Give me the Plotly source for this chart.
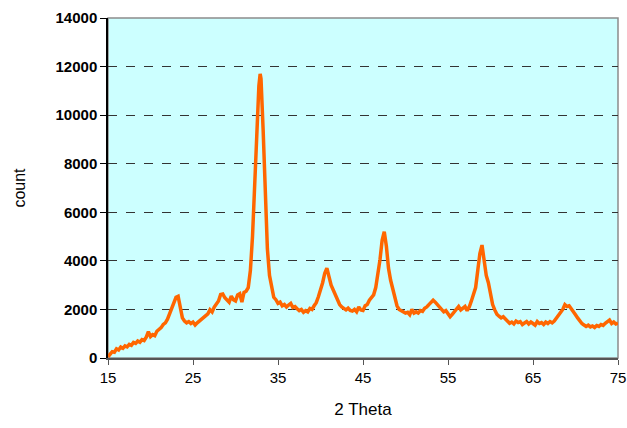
import plotly.graph_objects as go

two_theta = [
15.00,15.25,15.50,15.75,16.00,16.25,16.50,16.75,17.00,17.25,17.50,17.75,18.00,18.25,18.50,18.75,
19.00,19.25,19.50,19.75,20.00,20.25,20.50,20.75,21.00,21.25,21.50,21.75,22.00,22.25,22.50,22.75,
23.00,23.25,23.50,23.75,24.00,24.25,24.50,24.75,25.00,25.25,25.50,25.75,26.00,26.25,26.50,26.75,
27.00,27.25,27.50,27.75,28.00,28.25,28.50,28.75,29.00,29.25,29.50,29.75,30.00,30.25,30.50,30.75,
31.00,31.25,31.50,31.75,32.00,32.25,32.50,32.75,32.90,33.00,33.25,33.50,33.75,34.00,34.25,34.50,34.75,
35.00,35.25,35.50,35.75,36.00,36.25,36.50,36.75,37.00,37.25,37.50,37.75,38.00,38.25,38.50,38.75,
39.00,39.25,39.50,39.75,40.00,40.25,40.50,40.75,41.00,41.25,41.50,41.75,42.00,42.25,42.50,42.75,
43.00,43.25,43.50,43.75,44.00,44.25,44.50,44.75,45.00,45.25,45.50,45.75,46.00,46.25,46.50,46.75,
47.00,47.25,47.50,47.75,48.00,48.25,48.50,48.75,49.00,49.25,49.50,49.75,50.00,50.25,50.50,50.75,
51.00,51.25,51.50,51.75,52.00,52.25,52.50,52.75,53.00,53.25,53.50,53.75,54.00,54.25,54.50,54.75,
55.00,55.25,55.50,55.75,56.00,56.25,56.50,56.75,57.00,57.25,57.50,57.75,58.00,58.25,58.50,58.75,
59.00,59.25,59.50,59.75,60.00,60.25,60.50,60.75,61.00,61.25,61.50,61.75,62.00,62.25,62.50,62.75,
63.00,63.25,63.50,63.75,64.00,64.25,64.50,64.75,65.00,65.25,65.50,65.75,66.00,66.25,66.50,66.75,
67.00,67.25,67.50,67.75,68.00,68.25,68.50,68.75,69.00,69.25,69.50,69.75,70.00,70.25,70.50,70.75,
71.00,71.25,71.50,71.75,72.00,72.25,72.50,72.75,73.00,73.25,73.50,73.75,74.00,74.25,74.50,74.75,75.00]

counts = [
50,180,260,240,380,330,450,400,500,460,560,520,640,600,700,650,
760,720,860,1080,880,960,920,1100,1180,1250,1380,1450,1600,1820,2050,2280,
2500,2540,2000,1650,1520,1450,1500,1420,1480,1360,1450,1520,1580,1650,1750,1820,
1990,1900,2100,2250,2350,2620,2640,2480,2380,2300,2550,2400,2350,2600,2650,2300,
2700,2750,2900,3600,5000,7200,9500,11200,11700,11500,9400,6800,4500,3400,2950,2500,2400,
2250,2300,2150,2200,2100,2180,2250,2080,2120,2030,1950,2000,1880,1950,1900,2040,
2000,2150,2280,2520,2800,3100,3490,3700,3350,3000,2800,2600,2350,2200,2100,2050,
1980,2050,1960,1930,2000,1900,2100,1980,1960,2150,2200,2380,2500,2600,2900,3400,
4050,4850,5200,4600,3700,3200,2850,2450,2150,2000,1950,1900,1850,1880,1780,2000,
1850,1900,1850,1950,1920,2050,2100,2200,2300,2380,2300,2200,2100,1950,1900,1950,
1850,1700,1800,1920,2050,2120,1980,2050,2120,1950,2100,2350,2600,2900,3600,4300,
4650,4000,3400,3100,2700,2200,1980,1800,1720,1650,1700,1600,1500,1430,1480,1400,
1520,1460,1500,1380,1440,1500,1400,1480,1420,1350,1500,1420,1460,1380,1480,1420,
1500,1450,1520,1650,1720,1850,2000,2200,2120,2150,2040,1900,1780,1650,1500,1420,
1360,1300,1350,1280,1320,1260,1340,1300,1380,1340,1430,1480,1560,1420,1480,1400,1430]

x_ticks = [15, 25, 35, 45, 55, 65, 75]
y_ticks = [0, 2000, 4000, 6000, 8000, 10000, 12000, 14000]
y_tick_labels = ["0", "2000", "4000", "6000", "8000", "10000", "12000", "14000"]

fig = go.Figure()
fig.add_trace(go.Scatter(x=two_theta, y=counts, mode="lines",
                         line=dict(color="#FF6600", width=3.5), showlegend=False))

fig.add_shape(type="rect", xref="paper", yref="paper", x0=0, y0=0, x1=1, y1=1,
              line=dict(color="#8C8C8C", width=1.5), layer="below")

fig.update_layout(
    width=627, height=428,
    margin=dict(l=108, r=9, t=18, b=70),
    paper_bgcolor="white",
    plot_bgcolor="#CCFFFF",
    font=dict(family="Liberation Sans, Arial, sans-serif", color="black"),
    xaxis=dict(range=[15, 75], tickvals=x_ticks, ticks="outside", ticklen=5,
               tickcolor="#555555", showgrid=False, zeroline=False,
               showline=True, linecolor="#555555", linewidth=1.5,
               tickfont=dict(size=15), automargin=False,
               title=dict(text="2 Theta", font=dict(size=17), standoff=18)),
    yaxis=dict(range=[0, 14000], tickvals=y_ticks, ticktext=y_tick_labels,
               ticks="outside", ticklen=6,
               tickcolor="black", showgrid=True, gridcolor="#333333",
               griddash="dash", gridwidth=1, zeroline=False,
               showline=True, linecolor="black", linewidth=1.5,
               tickfont=dict(size=15, weight="bold"), automargin=False,
               title=dict(text="count", font=dict(size=16), standoff=26)),
)

fig.write_html("out.html", config={"displayModeBar": False},
               post_script="document.body.style.margin='0';document.body.style.overflow='hidden';")
